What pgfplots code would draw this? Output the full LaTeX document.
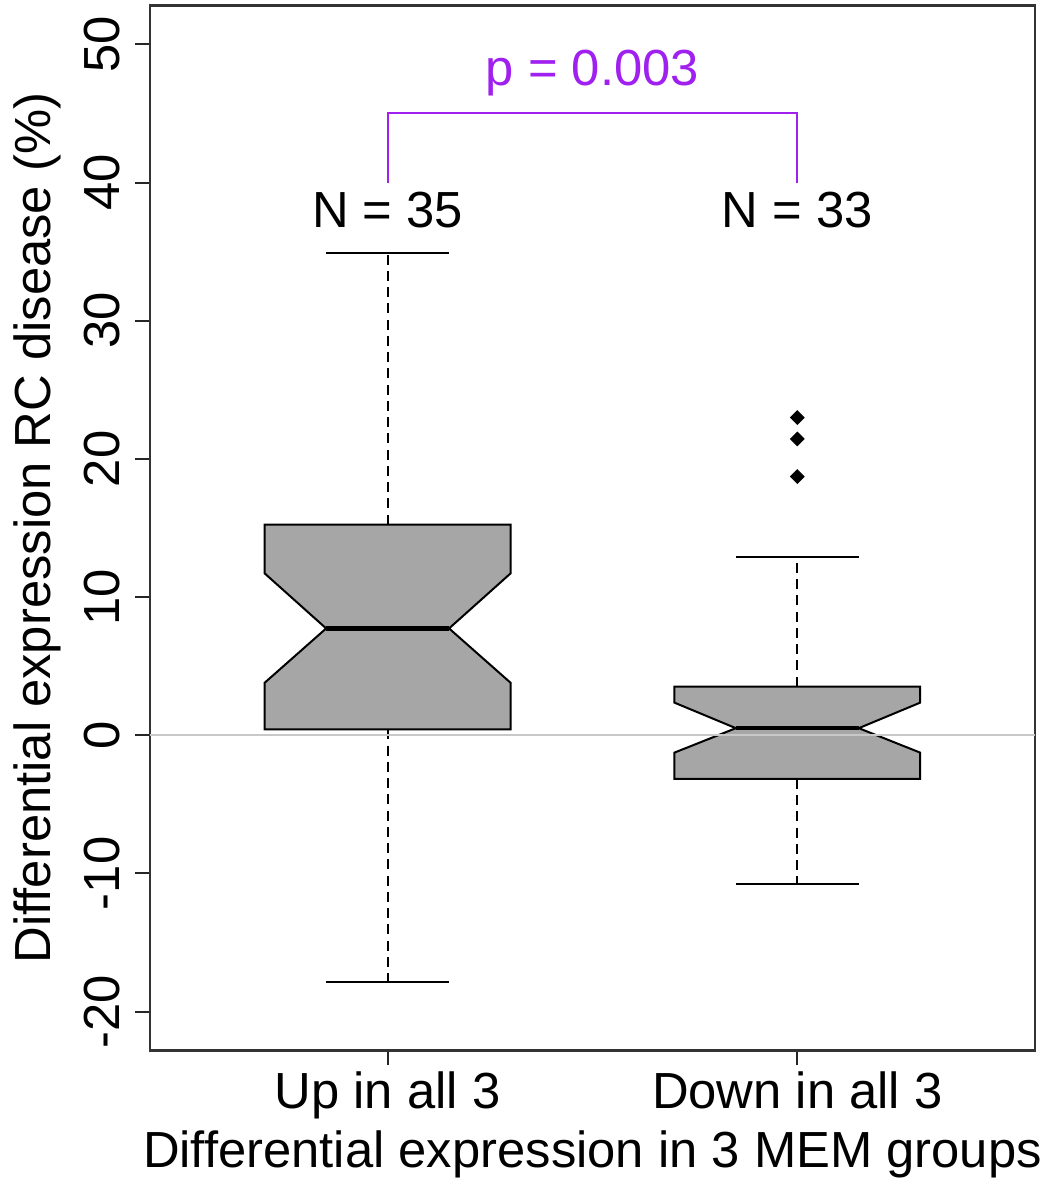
\documentclass[border=0pt]{standalone}
\usepackage{pgfplots}
\pgfplotsset{compat=1.18}
\usepackage{fontspec}
\setmainfont{Liberation Sans}
\definecolor{boxgray}{HTML}{A6A6A6}
\definecolor{rpurple}{HTML}{A020F0}
\definecolor{zerogray}{HTML}{C8C8C8}
\newcommand{\bigf}{\fontsize{20.3}{24}\selectfont}
\begin{document}
\begin{tikzpicture}
\begin{axis}[
  scale only axis, width=354pt, height=417.84pt,
  xmin=0.42, xmax=2.58, ymin=-22.8, ymax=52.8,
  xtick={1,2}, xticklabels={Up in all 3, Down in all 3},
  ytick={-20,-10,0,10,20,30,40,50}, yticklabels={-20,-10,0,10,20,30,40,50},
  tick align=outside, major tick length=6pt,
  xtick pos=lower, ytick pos=left,
  tick style={black!85, line width=0.8pt},
  axis line style={line width=1pt, black!80},
  ticklabel style={font=\bigf},
  yticklabel style={xshift=-5.6pt, rotate=90, anchor=south, inner sep=0pt},
  xticklabel style={yshift=-2.4pt, anchor=north, inner sep=0pt},
  xlabel={Differential expression in 3 MEM groups},
  ylabel={Differential expression RC disease (\%)},
  label style={font=\bigf},
  xlabel style={at={(axis description cs:0.5,-0.112)}, anchor=base, inner sep=0pt},
  ylabel style={at={(axis description cs:-0.1119,0.5)}, anchor=base, inner sep=0pt},
  clip=false,
]
% Box 1: Up in all 3
\addplot[draw=black, line width=0.8pt, fill=boxgray] coordinates {(0.7,0.43) (1.3,0.43) (1.3,3.80) (1.15,7.73) (1.3,11.71) (1.3,15.25) (0.7,15.25) (0.7,11.71) (0.85,7.73) (0.7,3.80)} -- cycle;
\addplot[black, line width=1.8pt] coordinates {(0.85,7.73) (1.15,7.73)};
\addplot[black, line width=0.8pt, dash pattern=on 4pt off 2.5pt] coordinates {(1,15.25) (1,34.89)};
\addplot[black, line width=0.8pt, dash pattern=on 4pt off 2.5pt] coordinates {(1,0.43) (1,-17.86)};
\addplot[black, line width=0.8pt] coordinates {(0.85,34.89) (1.15,34.89)};
\addplot[black, line width=0.8pt] coordinates {(0.85,-17.86) (1.15,-17.86)};
% Box 2: Down in all 3
\addplot[draw=black, line width=0.8pt, fill=boxgray] coordinates {(1.7,-3.16) (2.3,-3.16) (2.3,-1.26) (2.15,0.51) (2.3,2.36) (2.3,3.51) (1.7,3.51) (1.7,2.36) (1.85,0.51) (1.7,-1.26)} -- cycle;
\addplot[black, line width=1.8pt] coordinates {(1.85,0.51) (2.15,0.51)};
\addplot[black, line width=0.8pt, dash pattern=on 4pt off 2.5pt] coordinates {(2,3.51) (2,12.91)};
\addplot[black, line width=0.8pt, dash pattern=on 4pt off 2.5pt] coordinates {(2,-3.16) (2,-10.75)};
\addplot[black, line width=0.8pt] coordinates {(1.85,12.91) (2.15,12.91)};
\addplot[black, line width=0.8pt] coordinates {(1.85,-10.75) (2.15,-10.75)};
\addplot[only marks, mark=square*, mark size=1.9pt, mark options={rotate=45, fill=black, draw=black}] coordinates {(2,22.99) (2,21.44) (2,18.72)};
% zero line
\addplot[zerogray, line width=0.8pt] coordinates {(0.42,0) (2.58,0)};
% bracket
\addplot[rpurple, line width=0.8pt] coordinates {(1,40) (1,45) (2,45) (2,40)};
\node[anchor=base, font=\bigf] at (axis cs:1,36.75) {N = 35};
\node[anchor=base, font=\bigf] at (axis cs:2,36.75) {N = 33};
\node[anchor=base, font=\bigf, text=rpurple] at (axis cs:1.5,47.0) {p = 0.003};
\end{axis}
\pgfresetboundingbox
\path ([shift={(-60pt,-52.7pt)}]current axis.south west) rectangle ([shift={(6pt,2.28pt)}]current axis.north east);
\end{tikzpicture}
\end{document}
